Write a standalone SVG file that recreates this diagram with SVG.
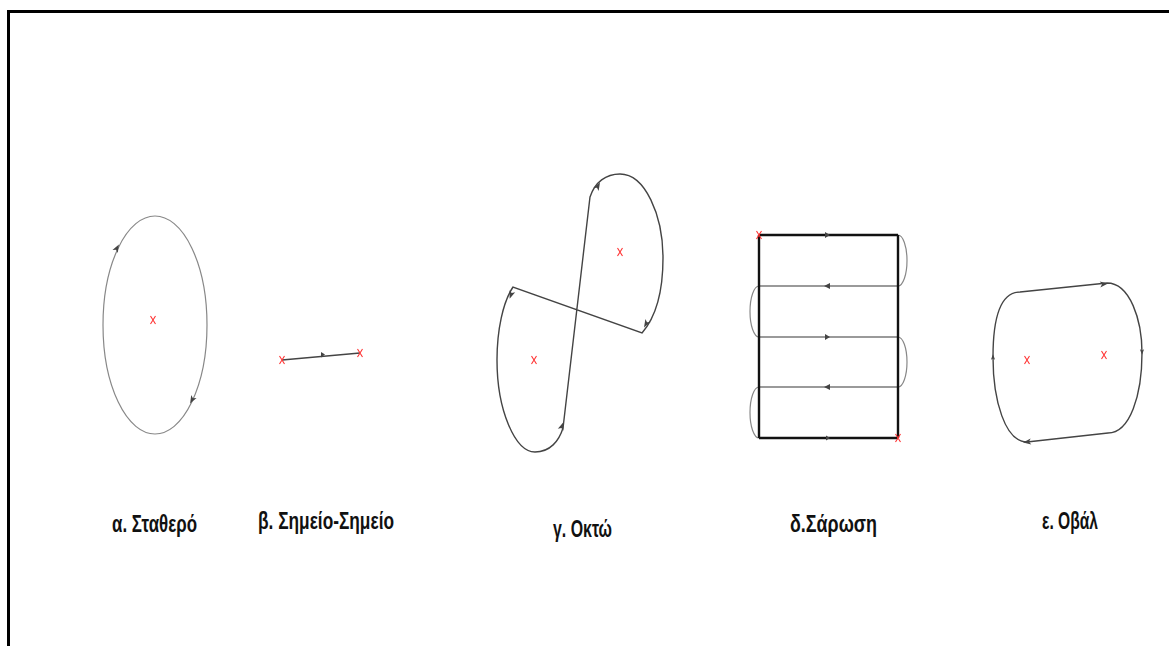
<svg xmlns="http://www.w3.org/2000/svg" width="1169" height="646" viewBox="0 0 1169 646">
<style>
.frame{fill:none;stroke:#000;stroke-width:3}
.thin{fill:none;stroke:#888;stroke-width:1.2}
.dark{fill:none;stroke:#444;stroke-width:1.4}
.grey{fill:none;stroke:#9a9a9a;stroke-width:2}
.blk{fill:none;stroke:#111;stroke-width:2.4}
.x{stroke:#f33;stroke-width:1.1;fill:none}
.ah{fill:#444;stroke:none}
.lbl{font-family:"Liberation Sans",Arial,sans-serif;font-weight:bold;font-size:23px;fill:#111}
</style>
<defs>
<g id="cross"><path class="x" d="M-2.5,-4 L2.5,4 M2.5,-4 L-2.5,4"/></g>
<path id="arr" class="ah" d="M4,0 L-4,-3 L-2,0 L-4,3 Z"/>
</defs>
<rect width="1169" height="646" fill="#fff"/>
<path class="frame" d="M8.5,646 L8.5,11.5 L1169,11.5"/>

<g id="fixed">
<ellipse class="thin" cx="155" cy="325" rx="52" ry="109"/>
<use href="#cross" x="153" y="320"/>
<use href="#arr" transform="translate(117,248) rotate(-62)"/>
<use href="#arr" transform="translate(192,400) rotate(118)"/>
<text class="lbl" x="112" y="532" textLength="85" lengthAdjust="spacingAndGlyphs">α. Σταθερό</text>
</g>

<g id="point-to-point">
<path class="dark" d="M282,360 L360,353"/>
<path class="ah" d="M325,354.5 L321,352 L321,357.5 Z"/>
<use href="#cross" x="282" y="360"/>
<use href="#cross" x="360" y="353"/>
<text class="lbl" x="258" y="529" textLength="136" lengthAdjust="spacingAndGlyphs">β. Σημείο-Σημείο</text>
</g>

<g id="eight">
<path class="dark" d="M590,197 C595,182 606,174 620,174 C645,174 663,215 663,258 C663,292 655,318 642,333 L513,287 C503,302 497,330 497,360 C497,410 515,452 535,452 C550,452 559,441 563,428 Z"/>
<use href="#cross" x="620" y="252"/>
<use href="#cross" x="534" y="360"/>
<use href="#arr" transform="translate(598,186) rotate(-60)"/>
<use href="#arr" transform="translate(646,324) rotate(120)"/>
<use href="#arr" transform="translate(511,295) rotate(110)"/>
<use href="#arr" transform="translate(562,426) rotate(-70)"/>
<text class="lbl" x="553" y="537" textLength="59" lengthAdjust="spacingAndGlyphs">γ. Οκτώ</text>
</g>

<g id="sweep">
<path class="thin" d="M898,235 A9,25.5 0 0 1 898,286 M759,286 A9,25.5 0 0 0 759,337 M898,337 A9,25 0 0 1 898,387 M759,387 A9,25.5 0 0 0 759,438"/>
<path class="grey" d="M759,286 L898,286 M759,337 L898,337 M759,387 L898,387"/>
<path class="blk" d="M759,235 L898,235 M759,438 L898,438 M759,235 L759,438 M898,235 L898,438"/>
<path class="ah" d="M824,286 L830,283 L830,289 Z M830,337 L825,334 L825,340 Z M824,387 L830,384 L830,390 Z M830,235 L825,232 L825,238 Z M830,438 L826,435.5 L826,440.5 Z"/>
<use href="#cross" x="759" y="235"/>
<use href="#cross" x="898" y="438"/>
<text class="lbl" x="790" y="532" textLength="87" lengthAdjust="spacingAndGlyphs">δ.Σάρωση</text>
</g>

<g id="oval">
<path class="dark" d="M1020,292 L1107,283 C1130,283 1142,320 1142,353 C1142,395 1130,433 1108,433 L1027,442 C1005,442 993,400 993,357 C993,320 1000,292 1020,292 Z"/>
<use href="#cross" x="1027" y="360"/>
<use href="#cross" x="1104" y="355"/>
<use href="#arr" transform="translate(1104,284) rotate(-6)"/>
<use href="#arr" transform="translate(1027,442) rotate(174)"/>
<use href="#arr" transform="translate(1142,352) rotate(90) scale(0.7)"/>
<use href="#arr" transform="translate(993,357) rotate(-90) scale(0.7)"/>
<text class="lbl" x="1042" y="529" textLength="56" lengthAdjust="spacingAndGlyphs">ε. Οβάλ</text>
</g>
</svg>
